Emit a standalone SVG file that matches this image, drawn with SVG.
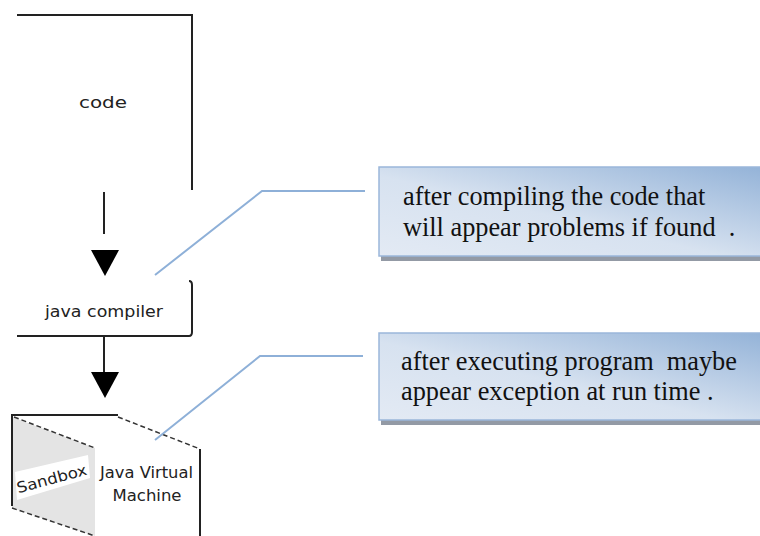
<svg xmlns="http://www.w3.org/2000/svg" width="760" height="536" viewBox="0 0 760 536">
<style>
.ln{stroke:#222;stroke-width:2;fill:none}
.dash{stroke:#333;stroke-width:1.5;fill:none;stroke-dasharray:5,3}
.sm{font-family:"DejaVu Sans",sans-serif;font-size:15px;fill:#222;text-anchor:middle}
.ct{font-family:"Liberation Serif","Times New Roman",serif;font-size:26.3px;fill:#111}
.cn{stroke:#8eb0d8;stroke-width:2;fill:none}
</style>
<defs>
<linearGradient id="g" x1="0" y1="1" x2="1" y2="0">
<stop offset="0" stop-color="#e3eaf4"/>
<stop offset="0.45" stop-color="#d7e2f0"/>
<stop offset="1" stop-color="#94b3d8"/>
</linearGradient>
</defs>
<rect width="760" height="536" fill="#fff"/>
<g id="code">
<path class="ln" d="M17,15 H192 V190"/>
<text class="sm" x="103" y="108" textLength="48" lengthAdjust="spacingAndGlyphs">code</text>
</g>
<g id="compiler">
<path class="ln" d="M17,336 H189 Q192,336 192,332 V285 Q192,281 189,281"/>
<text class="sm" x="104" y="317" textLength="118" lengthAdjust="spacingAndGlyphs">java compiler</text>
</g>
<g id="jvm">
<polygon points="12,417 95,448 95,536 12,508" fill="#e4e4e4"/>
<path class="ln" d="M12,506 V415 H118"/>
<path class="ln" d="M200,449 V536"/>
<path class="dash" d="M14,417 L95,448 M118,417 L200,449 M12,508 L95,536"/>
<polygon points="15,472 88,455 90,478 17,500" fill="#fff"/>
<text class="sm" x="52" y="484" transform="rotate(-15 52 480)" textLength="72" lengthAdjust="spacingAndGlyphs">Sandbox</text>
<text class="sm" x="146.5" y="478" textLength="93" lengthAdjust="spacingAndGlyphs">Java Virtual</text>
<text class="sm" x="147" y="501" textLength="69" lengthAdjust="spacingAndGlyphs">Machine</text>
</g>
<g id="connectors">
<path class="ln" d="M104,192 V234"/>
<polygon points="91,250 119,250 105,276" fill="#000"/>
<path class="ln" d="M104,336 V372"/>
<polygon points="91,372 119,372 105,398" fill="#000"/>
<path class="cn" d="M155,275 L262,191 H365"/>
<path class="cn" d="M155,440 L260,356 H363"/>
</g>
<g id="callout1">
<rect x="381" y="170" width="380" height="91" fill="#939aa5"/>
<rect x="379" y="167" width="382" height="89" fill="url(#g)" stroke="#9ab6da" stroke-width="1.5"/>
<text class="ct" x="403" y="205" xml:space="preserve">after compiling the code that</text>
<text class="ct" x="403" y="236" xml:space="preserve">will appear problems if found  .</text>
</g>
<g id="callout2">
<rect x="381" y="336" width="380" height="89" fill="#939aa5"/>
<rect x="379" y="333" width="382" height="87" fill="url(#g)" stroke="#9ab6da" stroke-width="1.5"/>
<text class="ct" x="401" y="370" xml:space="preserve">after executing program  maybe</text>
<text class="ct" x="401" y="400" xml:space="preserve">appear exception at run time .</text>
</g>
</svg>
